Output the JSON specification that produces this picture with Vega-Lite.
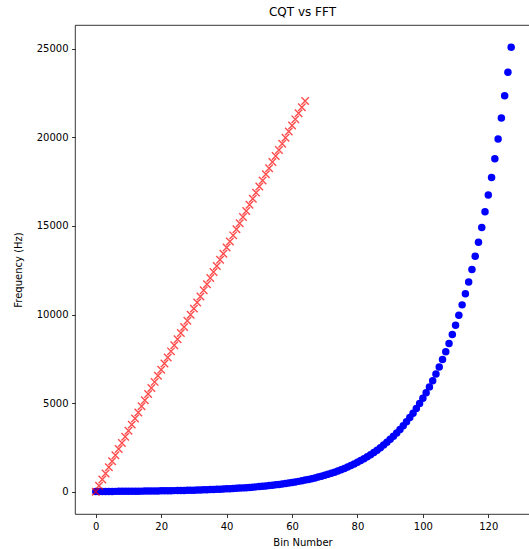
{
  "$schema": "https://vega.github.io/schema/vega-lite/v6.json",
  "autosize": "none",
  "width": 455,
  "height": 489,
  "padding": {"left": 75, "top": 25, "right": 0, "bottom": 35},
  "background": "white",
  "config": {
    "font": "DejaVu Sans",
    "view": {"stroke": "black", "strokeWidth": 0.8},
    "axis": {
      "domain": false,
      "grid": false,
      "labelFont": "DejaVu Sans",
      "labelFontSize": 10,
      "labelColor": "black",
      "titleFont": "DejaVu Sans",
      "titleFontSize": 10,
      "titleFontWeight": "normal",
      "titleColor": "black",
      "tickColor": "black",
      "tickSize": 3.5,
      "tickWidth": 0.8,
      "labelPadding": 3.5
    },
    "title": {"font": "DejaVu Sans", "fontSize": 12, "fontWeight": "normal", "color": "black", "offset": 6}
  },
  "title": {"text": "CQT vs FFT"},
  "datasets": {
    "cqt": [
      {"bin": 0, "freq": 16.35}, {"bin": 1, "freq": 17.32}, {"bin": 2, "freq": 18.35}, {"bin": 3, "freq": 19.45},
      {"bin": 4, "freq": 20.6}, {"bin": 5, "freq": 21.83}, {"bin": 6, "freq": 23.12}, {"bin": 7, "freq": 24.5},
      {"bin": 8, "freq": 25.96}, {"bin": 9, "freq": 27.5}, {"bin": 10, "freq": 29.14}, {"bin": 11, "freq": 30.87},
      {"bin": 12, "freq": 32.7}, {"bin": 13, "freq": 34.65}, {"bin": 14, "freq": 36.71}, {"bin": 15, "freq": 38.89},
      {"bin": 16, "freq": 41.2}, {"bin": 17, "freq": 43.65}, {"bin": 18, "freq": 46.25}, {"bin": 19, "freq": 49.0},
      {"bin": 20, "freq": 51.91}, {"bin": 21, "freq": 55.0}, {"bin": 22, "freq": 58.27}, {"bin": 23, "freq": 61.74},
      {"bin": 24, "freq": 65.41}, {"bin": 25, "freq": 69.3}, {"bin": 26, "freq": 73.42}, {"bin": 27, "freq": 77.78},
      {"bin": 28, "freq": 82.41}, {"bin": 29, "freq": 87.31}, {"bin": 30, "freq": 92.5}, {"bin": 31, "freq": 98.0},
      {"bin": 32, "freq": 103.83}, {"bin": 33, "freq": 110.0}, {"bin": 34, "freq": 116.54}, {"bin": 35, "freq": 123.47},
      {"bin": 36, "freq": 130.81}, {"bin": 37, "freq": 138.59}, {"bin": 38, "freq": 146.83}, {"bin": 39, "freq": 155.56},
      {"bin": 40, "freq": 164.81}, {"bin": 41, "freq": 174.61}, {"bin": 42, "freq": 185.0}, {"bin": 43, "freq": 196.0},
      {"bin": 44, "freq": 207.65}, {"bin": 45, "freq": 220.0}, {"bin": 46, "freq": 233.08}, {"bin": 47, "freq": 246.94},
      {"bin": 48, "freq": 261.63}, {"bin": 49, "freq": 277.18}, {"bin": 50, "freq": 293.66}, {"bin": 51, "freq": 311.13},
      {"bin": 52, "freq": 329.63}, {"bin": 53, "freq": 349.23}, {"bin": 54, "freq": 369.99}, {"bin": 55, "freq": 392.0},
      {"bin": 56, "freq": 415.3}, {"bin": 57, "freq": 440.0}, {"bin": 58, "freq": 466.16}, {"bin": 59, "freq": 493.88},
      {"bin": 60, "freq": 523.25}, {"bin": 61, "freq": 554.37}, {"bin": 62, "freq": 587.33}, {"bin": 63, "freq": 622.25},
      {"bin": 64, "freq": 659.26}, {"bin": 65, "freq": 698.46}, {"bin": 66, "freq": 739.99}, {"bin": 67, "freq": 783.99},
      {"bin": 68, "freq": 830.61}, {"bin": 69, "freq": 880.0}, {"bin": 70, "freq": 932.33}, {"bin": 71, "freq": 987.77},
      {"bin": 72, "freq": 1046.5}, {"bin": 73, "freq": 1108.7}, {"bin": 74, "freq": 1174.7}, {"bin": 75, "freq": 1244.5},
      {"bin": 76, "freq": 1318.5}, {"bin": 77, "freq": 1396.9}, {"bin": 78, "freq": 1480.0}, {"bin": 79, "freq": 1568.0},
      {"bin": 80, "freq": 1661.2}, {"bin": 81, "freq": 1760.0}, {"bin": 82, "freq": 1864.7}, {"bin": 83, "freq": 1975.5},
      {"bin": 84, "freq": 2093.0}, {"bin": 85, "freq": 2217.5}, {"bin": 86, "freq": 2349.3}, {"bin": 87, "freq": 2489.0},
      {"bin": 88, "freq": 2637.0}, {"bin": 89, "freq": 2793.8}, {"bin": 90, "freq": 2960.0}, {"bin": 91, "freq": 3136.0},
      {"bin": 92, "freq": 3322.4}, {"bin": 93, "freq": 3520.0}, {"bin": 94, "freq": 3729.3}, {"bin": 95, "freq": 3951.1},
      {"bin": 96, "freq": 4186.0}, {"bin": 97, "freq": 4434.9}, {"bin": 98, "freq": 4698.6}, {"bin": 99, "freq": 4978.0},
      {"bin": 100, "freq": 5274.0}, {"bin": 101, "freq": 5587.7}, {"bin": 102, "freq": 5919.9}, {"bin": 103, "freq": 6271.9},
      {"bin": 104, "freq": 6644.9}, {"bin": 105, "freq": 7040.0}, {"bin": 106, "freq": 7458.6}, {"bin": 107, "freq": 7902.1},
      {"bin": 108, "freq": 8372.0}, {"bin": 109, "freq": 8869.8}, {"bin": 110, "freq": 9397.3}, {"bin": 111, "freq": 9956.1},
      {"bin": 112, "freq": 10548}, {"bin": 113, "freq": 11175}, {"bin": 114, "freq": 11840}, {"bin": 115, "freq": 12544},
      {"bin": 116, "freq": 13290}, {"bin": 117, "freq": 14080}, {"bin": 118, "freq": 14917}, {"bin": 119, "freq": 15804},
      {"bin": 120, "freq": 16744}, {"bin": 121, "freq": 17740}, {"bin": 122, "freq": 18795}, {"bin": 123, "freq": 19912},
      {"bin": 124, "freq": 21096}, {"bin": 125, "freq": 22351}, {"bin": 126, "freq": 23680}, {"bin": 127, "freq": 25088}
    ],
    "fft": [
      {"bin": 0, "freq": 0}, {"bin": 1, "freq": 344.5}, {"bin": 2, "freq": 689.1}, {"bin": 3, "freq": 1033.6},
      {"bin": 4, "freq": 1378.1}, {"bin": 5, "freq": 1722.7}, {"bin": 6, "freq": 2067.2}, {"bin": 7, "freq": 2411.7},
      {"bin": 8, "freq": 2756.3}, {"bin": 9, "freq": 3100.8}, {"bin": 10, "freq": 3445.3}, {"bin": 11, "freq": 3789.8},
      {"bin": 12, "freq": 4134.4}, {"bin": 13, "freq": 4478.9}, {"bin": 14, "freq": 4823.4}, {"bin": 15, "freq": 5168.0},
      {"bin": 16, "freq": 5512.5}, {"bin": 17, "freq": 5857.0}, {"bin": 18, "freq": 6201.6}, {"bin": 19, "freq": 6546.1},
      {"bin": 20, "freq": 6890.6}, {"bin": 21, "freq": 7235.2}, {"bin": 22, "freq": 7579.7}, {"bin": 23, "freq": 7924.2},
      {"bin": 24, "freq": 8268.8}, {"bin": 25, "freq": 8613.3}, {"bin": 26, "freq": 8957.8}, {"bin": 27, "freq": 9302.3},
      {"bin": 28, "freq": 9646.9}, {"bin": 29, "freq": 9991.4}, {"bin": 30, "freq": 10335.9}, {"bin": 31, "freq": 10680.5},
      {"bin": 32, "freq": 11025.0}, {"bin": 33, "freq": 11369.5}, {"bin": 34, "freq": 11714.1}, {"bin": 35, "freq": 12058.6},
      {"bin": 36, "freq": 12403.1}, {"bin": 37, "freq": 12747.7}, {"bin": 38, "freq": 13092.2}, {"bin": 39, "freq": 13436.7},
      {"bin": 40, "freq": 13781.3}, {"bin": 41, "freq": 14125.8}, {"bin": 42, "freq": 14470.3}, {"bin": 43, "freq": 14814.8},
      {"bin": 44, "freq": 15159.4}, {"bin": 45, "freq": 15503.9}, {"bin": 46, "freq": 15848.4}, {"bin": 47, "freq": 16193.0},
      {"bin": 48, "freq": 16537.5}, {"bin": 49, "freq": 16882.0}, {"bin": 50, "freq": 17226.6}, {"bin": 51, "freq": 17571.1},
      {"bin": 52, "freq": 17915.6}, {"bin": 53, "freq": 18260.2}, {"bin": 54, "freq": 18604.7}, {"bin": 55, "freq": 18949.2},
      {"bin": 56, "freq": 19293.8}, {"bin": 57, "freq": 19638.3}, {"bin": 58, "freq": 19982.8}, {"bin": 59, "freq": 20327.3},
      {"bin": 60, "freq": 20671.9}, {"bin": 61, "freq": 21016.4}, {"bin": 62, "freq": 21360.9}, {"bin": 63, "freq": 21705.5},
      {"bin": 64, "freq": 22050.0}
    ]
  },
  "encoding": {
    "x": {
      "field": "bin", "type": "quantitative",
      "scale": {"domain": [-6.35, 132.75], "nice": false, "zero": false},
      "axis": {"title": "Bin Number", "values": [0, 20, 40, 60, 80, 100, 120], "titlePadding": 6}
    },
    "y": {
      "field": "freq", "type": "quantitative",
      "scale": {"domain": [-1254, 26342], "nice": false, "zero": false},
      "axis": {"title": "Frequency (Hz)", "values": [0, 5000, 10000, 15000, 20000, 25000], "titlePadding": 13, "format": "d"}
    }
  },
  "layer": [
    {
      "data": {"name": "cqt"},
      "mark": {"type": "point", "shape": "circle", "filled": true, "color": "#0000ff", "opacity": 1, "size": 56, "clip": true}
    },
    {
      "data": {"name": "fft"},
      "mark": {"type": "point", "shape": "M-1,-1L1,1M-1,1L1,-1", "filled": false, "stroke": "#ff0000", "strokeWidth": 1.4, "opacity": 0.7, "size": 56, "clip": true}
    }
  ]
}
